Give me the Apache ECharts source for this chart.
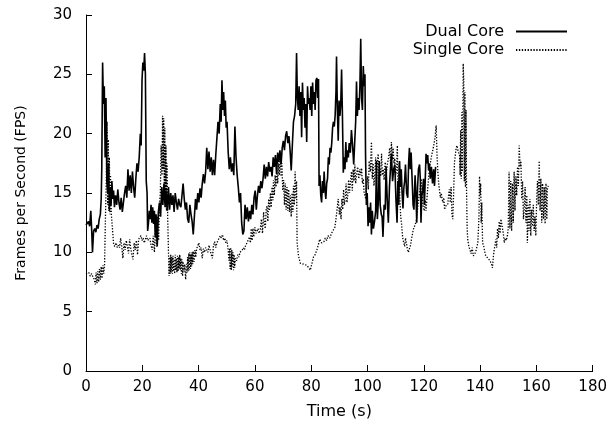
<!DOCTYPE html>
<html><head><meta charset="utf-8">
<script src="https://cdn.jsdelivr.net/npm/echarts@6/dist/echarts.min.js"></script>
<style>html,body{margin:0;padding:0;background:#fff}#c{width:610px;height:431px}</style>
</head><body><div id="c"></div>
<script>
// Axis settings
const xAxisRange = [0, 180, 20];
const yAxisRange = [0, 30, 5];
const seriesNames = ['Dual Core', 'Single Core'];
const xTitle = 'Time (s)';
const yTitle = 'Frames per Second (FPS)';

// Dual Core: [time (s), FPS]
const dualCore = [[0,12.3],[0.9,12.6],[1.3,12.2],[1.7,13.5],[2.0,12.0],[2.3,10.0],[2.7,11.8],[3.1,12.0],[3.5,11.7],[3.9,12.3],[4.3,12.0],[4.7,12.8],[5.1,13.2],[5.4,14.5],[5.6,17.0],[5.9,26.0],[6.2,22.5],[6.5,24.0],[6.8,18.0],[7.1,23.0],[7.4,16.0],[7.7,15.0],[8.0,17.5],[8.3,13.5],[8.6,15.5],[8.9,14.0],[9.2,16.0],[9.5,14.5],[9.8,15.2],[10.1,13.8],[10.5,14.8],[10.9,14.0],[11.3,15.3],[11.7,14.2],[12.1,13.6],[12.5,14.6],[12.9,13.4],[13.3,14.2],[13.7,15.0],[14.1,15.6],[14.5,14.6],[14.9,17.0],[15.3,15.2],[15.7,16.5],[16.1,15.0],[16.5,16.8],[16.9,15.5],[17.3,14.6],[17.7,16.2],[18.1,17.5],[18.5,16.8],[18.9,18.0],[19.3,20.0],[19.6,19.0],[19.9,24.5],[20.2,26.0],[20.5,25.3],[20.8,26.8],[21.1,25.0],[21.4,16.0],[21.7,15.0],[21.9,11.8],[22.2,12.5],[22.5,13.5],[22.8,12.8],[23.1,14.0],[23.4,12.5],[23.7,13.8],[24.0,12.4],[24.3,13.5],[24.6,11.3],[24.9,13.2],[25.3,10.5],[25.7,13.4],[26.1,14.2],[26.5,13.0],[26.9,15.5],[27.3,14.0],[27.7,15.8],[28.1,13.8],[28.5,15.2],[28.9,13.5],[29.3,15.5],[29.7,13.6],[30.1,15.0],[30.5,14.0],[30.9,14.8],[31.3,13.4],[31.7,15.0],[32.1,14.2],[32.5,13.6],[32.9,14.5],[33.3,14.0],[33.7,13.8],[34.1,14.8],[34.5,15.8],[34.9,14.5],[35.3,13.6],[35.7,14.2],[36.1,12.8],[36.5,12.5],[36.9,14.0],[37.3,13.2],[37.7,12.6],[38.1,11.5],[38.5,13.0],[38.9,14.5],[39.3,13.6],[39.7,15.0],[40.1,14.2],[40.5,15.4],[40.9,14.6],[41.3,15.8],[41.7,16.6],[42.1,15.8],[42.5,16.8],[42.9,18.8],[43.3,17.0],[43.7,18.5],[44.1,16.8],[44.5,18.0],[44.9,16.5],[45.3,17.8],[45.7,16.5],[46.1,18.2],[46.5,19.6],[46.9,21.0],[47.3,20.0],[47.7,22.5],[48.0,21.0],[48.3,24.5],[48.6,22.0],[48.9,23.5],[49.2,21.5],[49.5,22.8],[49.8,20.5],[50.1,21.0],[50.5,18.5],[50.9,17.0],[51.3,18.0],[51.7,16.8],[52.1,17.5],[52.5,16.5],[52.9,20.6],[53.3,18.0],[53.7,16.5],[54.1,15.5],[54.5,14.2],[54.9,15.0],[55.3,12.5],[55.7,11.5],[56.1,11.8],[56.5,14.0],[56.9,12.8],[57.3,13.8],[57.7,12.6],[58.1,13.5],[58.5,12.8],[58.9,14.0],[59.3,13.2],[59.7,14.6],[60.1,15.2],[60.5,13.6],[60.9,14.8],[61.3,15.6],[61.7,15.0],[62.1,16.0],[62.5,15.4],[62.9,16.2],[63.3,17.4],[63.7,16.2],[64.1,17.2],[64.5,16.4],[64.9,17.6],[65.3,16.8],[65.7,17.2],[66.1,16.4],[66.5,18.0],[66.9,17.2],[67.3,18.2],[67.7,16.6],[68.1,18.4],[68.5,17.6],[68.9,18.6],[69.3,17.4],[69.7,18.8],[70.1,19.4],[70.5,18.6],[70.9,19.8],[71.3,20.2],[71.7,19.2],[72.1,19.8],[72.5,18.6],[72.9,16.9],[73.3,19.0],[73.7,21.0],[74.1,21.5],[74.5,22.5],[74.8,26.8],[75.1,23.0],[75.4,22.0],[75.7,24.0],[76.0,21.5],[76.3,23.5],[76.6,19.7],[76.9,24.3],[77.2,22.0],[77.5,23.0],[77.8,20.5],[78.1,22.5],[78.4,19.3],[78.7,24.0],[79.0,22.5],[79.3,23.0],[79.6,22.0],[79.9,24.0],[80.2,21.5],[80.5,24.3],[80.8,22.5],[81.1,23.5],[81.4,22.0],[81.7,24.5],[82.0,24.7],[82.3,23.0],[82.6,24.6],[82.8,15.6],[83.1,16.5],[83.4,14.8],[83.7,14.2],[84.0,16.0],[84.3,15.0],[84.6,16.8],[84.9,15.2],[85.2,14.5],[85.5,15.8],[85.8,16.2],[86.1,18.0],[86.4,17.4],[86.7,18.8],[87.0,18.4],[87.3,19.2],[87.6,20.5],[87.9,21.0],[88.2,20.6],[88.5,21.5],[88.8,23.5],[89.0,26.5],[89.3,22.0],[89.6,19.4],[89.9,22.8],[90.2,21.5],[90.5,22.5],[90.8,25.4],[91.1,21.5],[91.4,16.7],[91.7,18.0],[92.0,17.0],[92.3,19.3],[92.6,17.6],[92.9,18.6],[93.2,18.0],[93.5,19.2],[93.9,18.4],[94.3,20.3],[94.7,19.0],[95.1,17.4],[95.5,19.5],[95.8,21.0],[96.1,24.4],[96.4,21.5],[96.7,23.0],[97.0,22.0],[97.3,24.0],[97.6,28.0],[97.9,23.0],[98.2,22.0],[98.5,25.7],[98.8,24.0],[99.1,25.0],[99.3,18.4],[99.6,14.0],[99.9,15.0],[100.2,12.2],[100.5,13.8],[100.8,12.5],[101.1,14.2],[101.4,11.5],[101.7,13.5],[102.1,12.0],[102.5,12.6],[102.9,13.5],[103.2,17.7],[103.5,12.8],[103.9,14.5],[104.2,17.7],[104.5,14.0],[104.9,13.2],[105.2,13.0],[105.5,11.3],[105.9,14.0],[106.3,13.6],[106.6,17.2],[107.0,14.5],[107.4,12.5],[107.8,15.5],[108.1,16.8],[108.5,18.3],[108.9,16.0],[109.3,17.0],[109.7,17.4],[110.1,14.5],[110.5,12.5],[110.8,16.0],[111.1,14.0],[111.4,17.7],[111.7,15.5],[112.0,17.0],[112.3,15.0],[112.6,13.7],[112.9,15.4],[113.2,16.0],[113.5,17.4],[113.9,15.0],[114.3,14.6],[114.6,17.5],[114.9,18.8],[115.2,17.0],[115.5,18.4],[115.8,16.5],[116.2,14.0],[116.5,13.6],[116.9,16.5],[117.2,15.0],[117.5,12.5],[117.8,15.5],[118.1,17.0],[118.5,17.4],[118.8,16.0],[119.0,12.5],[119.3,14.8],[119.6,15.2],[119.9,16.2],[120.2,14.0],[120.5,16.0],[120.8,18.3],[121.1,17.5],[121.4,18.2],[121.7,16.9],[122.0,17.5],[122.3,16.2],[122.7,17.2],[123.1,15.8],[123.5,17.0],[123.8,15.6],[124.2,17.2]];

// Single Core: [time (s), FPS]
const singleCore = [[0,8.2],[1.0,8.3],[1.5,8.0],[2.0,8.2],[2.5,7.9],[3.0,7.7],[3.3,7.3],[3.6,8.3],[3.9,7.4],[4.2,8.4],[4.5,7.5],[4.8,8.6],[5.1,7.7],[5.4,8.8],[5.7,7.8],[6.0,8.9],[6.3,8.2],[6.6,9.0],[6.9,12.9],[7.2,16.0],[7.5,21.0],[7.7,14.0],[7.9,19.5],[8.1,13.5],[8.3,18.0],[8.5,13.2],[8.7,16.5],[9.0,13.2],[9.4,12.0],[9.8,10.7],[10.2,10.5],[10.7,10.8],[11.1,10.4],[11.5,10.6],[11.9,10.4],[12.3,11.2],[12.7,10.5],[13.1,9.5],[13.5,10.8],[13.9,10.2],[14.3,11.0],[14.7,10.5],[15.1,9.9],[15.5,11.1],[15.9,10.3],[16.3,9.8],[16.7,9.4],[17.1,10.8],[17.5,10.2],[17.9,11.0],[18.3,9.8],[18.7,11.1],[19.1,11.0],[19.5,11.4],[19.9,11.0],[20.3,11.2],[20.7,10.8],[21.1,11.1],[21.5,11.4],[21.9,11.0],[22.3,10.9],[22.7,11.2],[23.1,10.6],[23.5,10.2],[23.9,11.4],[24.3,10.0],[24.7,12.0],[25.1,10.5],[25.5,13.0],[25.8,11.0],[26.1,14.0],[26.4,15.0],[26.7,19.0],[27.0,16.5],[27.2,21.5],[27.4,17.0],[27.6,21.3],[27.8,15.5],[28.0,20.5],[28.2,14.0],[28.4,19.0],[28.6,13.5],[28.8,17.5],[29.0,13.2],[29.3,10.0],[29.5,8.0],[29.7,9.6],[29.9,8.2],[30.1,9.8],[30.3,8.3],[30.5,9.6],[30.7,8.2],[30.9,9.7],[31.1,8.4],[31.3,9.4],[31.5,8.2],[31.7,9.8],[31.9,8.5],[32.1,9.5],[32.3,8.3],[32.5,9.7],[32.7,8.4],[32.9,9.6],[33.1,8.6],[33.3,9.8],[33.5,8.5],[33.7,9.5],[33.9,8.2],[34.1,9.4],[34.3,8.0],[34.5,9.2],[34.8,8.4],[35.1,9.0],[35.4,7.7],[35.7,9.0],[35.9,8.3],[36.1,9.6],[36.3,8.4],[36.5,9.9],[36.7,8.5],[36.9,10.0],[37.1,8.6],[37.3,9.8],[37.5,8.8],[37.7,10.0],[37.9,9.0],[38.1,10.1],[38.4,9.2],[38.7,10.2],[39.0,9.6],[39.3,10.3],[39.7,10.2],[40.1,10.8],[40.5,10.2],[40.9,10.4],[41.3,9.5],[41.7,10.3],[42.1,10.0],[42.5,10.4],[42.9,10.2],[43.3,10.0],[43.7,10.6],[44.1,10.2],[44.5,9.8],[44.9,9.5],[45.3,10.6],[45.7,10.9],[46.1,10.4],[46.5,10.8],[46.9,11.0],[47.3,11.1],[47.7,11.4],[48.1,11.2],[48.5,11.5],[48.9,11.0],[49.3,11.2],[49.7,10.8],[50.1,11.0],[50.5,10.2],[50.8,9.3],[51.0,10.3],[51.2,8.6],[51.4,10.4],[51.6,8.5],[51.8,10.2],[52.0,8.8],[52.2,10.0],[52.4,8.5],[52.6,9.8],[52.8,8.7],[53.1,9.5],[53.5,9.3],[53.9,9.8],[54.3,9.6],[54.7,10.0],[55.1,10.1],[55.5,10.2],[55.9,10.4],[56.3,10.2],[56.7,10.6],[57.2,10.8],[57.7,10.8],[58.1,11.3],[58.4,10.8],[58.7,12.0],[59.0,11.0],[59.3,12.0],[59.6,11.3],[60.0,12.1],[60.4,11.6],[60.7,11.7],[61.1,12.0],[61.5,11.6],[61.9,11.9],[62.3,12.8],[62.7,11.6],[63.1,13.4],[63.4,12.3],[63.7,12.0],[64.0,13.6],[64.3,13.9],[64.6,12.6],[64.9,14.5],[65.2,13.5],[65.5,15.0],[65.8,13.8],[66.1,15.5],[66.4,14.4],[66.6,16.1],[66.9,14.8],[67.2,16.5],[67.5,15.5],[67.8,17.1],[68.1,15.8],[68.4,17.5],[68.7,16.5],[69.0,18.3],[69.3,16.4],[69.6,17.5],[69.9,15.2],[70.2,16.1],[70.5,14.0],[70.8,15.8],[71.1,13.6],[71.4,15.5],[71.7,13.5],[72.0,15.3],[72.3,13.4],[72.6,14.8],[72.9,13.0],[73.2,15.0],[73.5,13.4],[73.7,15.6],[74.0,14.0],[74.3,16.8],[74.6,14.5],[74.8,16.0],[75.0,10.8],[75.5,9.7],[76.1,9.1],[76.7,9.2],[77.3,9.0],[77.9,9.1],[78.5,8.9],[79.1,8.8],[79.7,8.5],[80.2,9.0],[80.8,9.6],[81.4,9.8],[82.0,10.2],[82.5,10.6],[83.0,11.1],[83.7,10.8],[84.5,10.9],[85.0,11.2],[85.5,11.0],[86.0,11.4],[86.6,11.2],[87.2,11.6],[87.8,11.5],[88.4,12.1],[88.8,12.8],[89.1,13.4],[89.6,14.5],[90.0,13.2],[90.3,13.8],[90.6,12.8],[90.9,14.5],[91.2,13.6],[91.5,15.3],[91.8,14.0],[92.1,14.6],[92.4,15.8],[92.7,14.2],[93.0,14.8],[93.3,16.1],[93.6,15.0],[93.9,15.8],[94.3,16.8],[94.6,15.2],[94.9,17.0],[95.2,16.0],[95.5,17.4],[95.8,15.8],[96.1,16.5],[96.5,17.2],[96.9,16.2],[97.3,17.0],[97.6,16.5],[97.9,17.1],[98.2,15.8],[98.5,16.2],[98.8,15.0],[99.1,15.0],[99.4,14.5],[99.7,15.6],[100.0,16.4],[100.3,15.3],[100.6,17.7],[101.0,16.8],[101.4,19.3],[101.7,16.2],[102.0,17.5],[102.3,15.6],[102.6,16.4],[102.9,18.0],[103.2,15.8],[103.5,17.6],[103.8,18.3],[104.1,16.0],[104.4,17.0],[104.7,16.4],[105.0,18.3],[105.3,16.5],[105.6,17.0],[105.9,16.1],[106.3,17.6],[106.7,16.6],[107.1,17.5],[107.5,18.0],[107.9,18.8],[108.2,17.4],[108.5,19.3],[108.8,17.8],[109.1,18.8],[109.4,17.5],[109.7,17.9],[110.0,16.5],[110.3,16.8],[110.6,19.0],[110.9,15.0],[111.2,17.5],[111.5,14.5],[111.8,13.0],[112.1,12.4],[112.4,11.5],[112.6,11.1],[112.9,11.0],[113.2,10.5],[113.5,11.2],[113.8,10.8],[114.1,10.4],[114.5,10.0],[114.9,9.9],[115.3,10.6],[115.7,11.2],[116.1,11.7],[116.5,12.1],[116.9,12.3],[117.3,12.6],[117.6,13.2],[117.9,13.9],[118.2,14.5],[118.5,15.0],[118.8,15.6],[119.1,16.2],[119.4,15.0],[119.8,13.8],[120.2,13.5],[120.5,14.4],[120.8,13.5],[121.2,14.8],[121.6,16.0],[122.0,17.1],[122.4,17.6],[122.8,18.2],[123.2,18.6],[123.6,19.1],[124.0,19.7],[124.4,20.7],[124.7,18.2],[125.0,16.8],[125.3,15.8],[125.6,15.2],[125.9,14.6],[126.2,15.0],[126.5,14.5],[126.8,14.2],[127.1,14.6],[127.4,13.6],[127.7,13.9],[128.1,13.8],[128.5,14.0],[128.8,14.8],[129.1,15.3],[129.4,14.2],[129.7,15.5],[130.0,13.2],[130.3,12.8],[130.6,15.0],[130.9,17.6],[131.2,18.2],[131.5,18.8],[131.8,19.0],[132.1,18.6],[132.4,18.4],[132.7,18.2],[132.9,16.5],[133.1,20.3],[133.3,16.2],[133.5,21.8],[133.7,16.8],[133.9,22.0],[134.0,25.9],[134.2,24.5],[134.4,16.0],[134.6,23.5],[134.8,15.5],[135.0,22.0],[135.2,15.0],[135.4,12.0],[135.6,11.1],[136.0,10.5],[136.4,10.6],[136.8,9.9],[137.2,10.4],[137.6,9.7],[138.0,9.8],[138.4,10.0],[138.8,10.4],[139.2,10.8],[139.6,13.0],[139.8,16.4],[140.0,14.8],[140.2,15.8],[140.4,12.5],[140.6,14.2],[140.9,10.8],[141.3,10.5],[141.7,10.0],[142.0,9.7],[142.4,9.6],[142.8,9.5],[143.2,9.6],[143.5,9.3],[143.8,9.4],[144.1,9.0],[144.4,8.7],[144.7,9.6],[145.0,10.2],[145.3,10.6],[145.6,11.1],[145.9,10.4],[146.2,12.0],[146.5,11.2],[146.8,12.6],[147.1,11.6],[147.4,12.8],[147.7,12.4],[148.0,12.5],[148.3,11.5],[148.6,10.8],[148.9,11.2],[149.3,11.0],[149.7,11.4],[150.0,12.0],[150.3,16.8],[150.6,12.0],[150.9,16.0],[151.2,11.8],[151.5,15.8],[151.8,12.5],[152.1,16.8],[152.4,13.5],[152.7,16.4],[153.0,14.8],[153.3,17.2],[153.6,15.6],[153.9,19.0],[154.2,17.2],[154.5,17.7],[154.8,14.5],[155.1,16.0],[155.4,12.8],[155.7,13.7],[156.0,15.5],[156.3,12.5],[156.6,14.8],[156.8,10.8],[157.1,14.0],[157.4,11.8],[157.7,14.5],[158.0,11.4],[158.3,13.6],[158.6,12.2],[158.9,14.0],[159.2,11.8],[159.5,13.0],[159.8,11.4],[160.1,14.5],[160.4,16.0],[160.7,14.0],[161.0,17.7],[161.3,13.5],[161.6,16.2],[161.9,12.5],[162.2,15.8],[162.5,12.8],[162.8,15.5],[163.1,12.4],[163.4,15.8],[163.7,12.8],[163.9,15.3],[164.2,15.6]];

const chart = echarts.init(document.getElementById('c'), null, {renderer: 'canvas'});
const font = 'DejaVu Sans';
const axisCommon = {
  axisLine: {show: true, lineStyle: {color: '#000', width: 1}},
  axisTick: {show: true, inside: true, length: 6, lineStyle: {color: '#000', width: 1}},
  splitLine: {show: false},
  nameLocation: 'middle',
  nameTextStyle: {color: '#000', fontFamily: font, fontSize: 16}
};
const legendCommon = {
  right: 42, padding: 0, itemWidth: 51, itemHeight: 14, align: 'right',
  itemStyle: {color: 'transparent', borderWidth: 0, borderColor: 'transparent'},
  textStyle: {color: '#000', fontFamily: font, fontSize: 16, padding: [0, 7, 0, 0]}
};
chart.setOption({
  animation: false,
  backgroundColor: '#fff',
  grid: {left: 86, right: 16, top: 15, bottom: 60, containLabel: false},
  legend: [
    Object.assign({}, legendCommon, {data: [seriesNames[0]], top: 23.5}),
    Object.assign({}, legendCommon, {data: [seriesNames[1]], top: 42})
  ],
  xAxis: Object.assign({}, axisCommon, {
    type: 'value', min: xAxisRange[0], max: xAxisRange[1], interval: xAxisRange[2],
    name: xTitle, nameGap: 33,
    axisLabel: {color: '#000', fontFamily: font, fontSize: 15, margin: 9}
  }),
  yAxis: Object.assign({}, axisCommon, {
    type: 'value', min: yAxisRange[0], max: yAxisRange[1], interval: yAxisRange[2],
    name: yTitle, nameGap: 58,
    nameTextStyle: {color: '#000', fontFamily: font, fontSize: 14},
    axisLabel: {color: '#000', fontFamily: font, fontSize: 15, margin: 14, padding: [5, 0, 0, 0]}
  }),
  series: [
    {name: seriesNames[0], type: 'line', data: dualCore, symbol: 'none', smooth: false,
     lineStyle: {color: '#000', width: 1.6, type: 'solid'}, itemStyle: {color: '#000'}},
    {name: seriesNames[1], type: 'line', data: singleCore, symbol: 'none', smooth: false,
     lineStyle: {color: '#000', width: 1.3, type: [1.3, 1.6]}, itemStyle: {color: '#000'}}
  ]
});
</script></body></html>
